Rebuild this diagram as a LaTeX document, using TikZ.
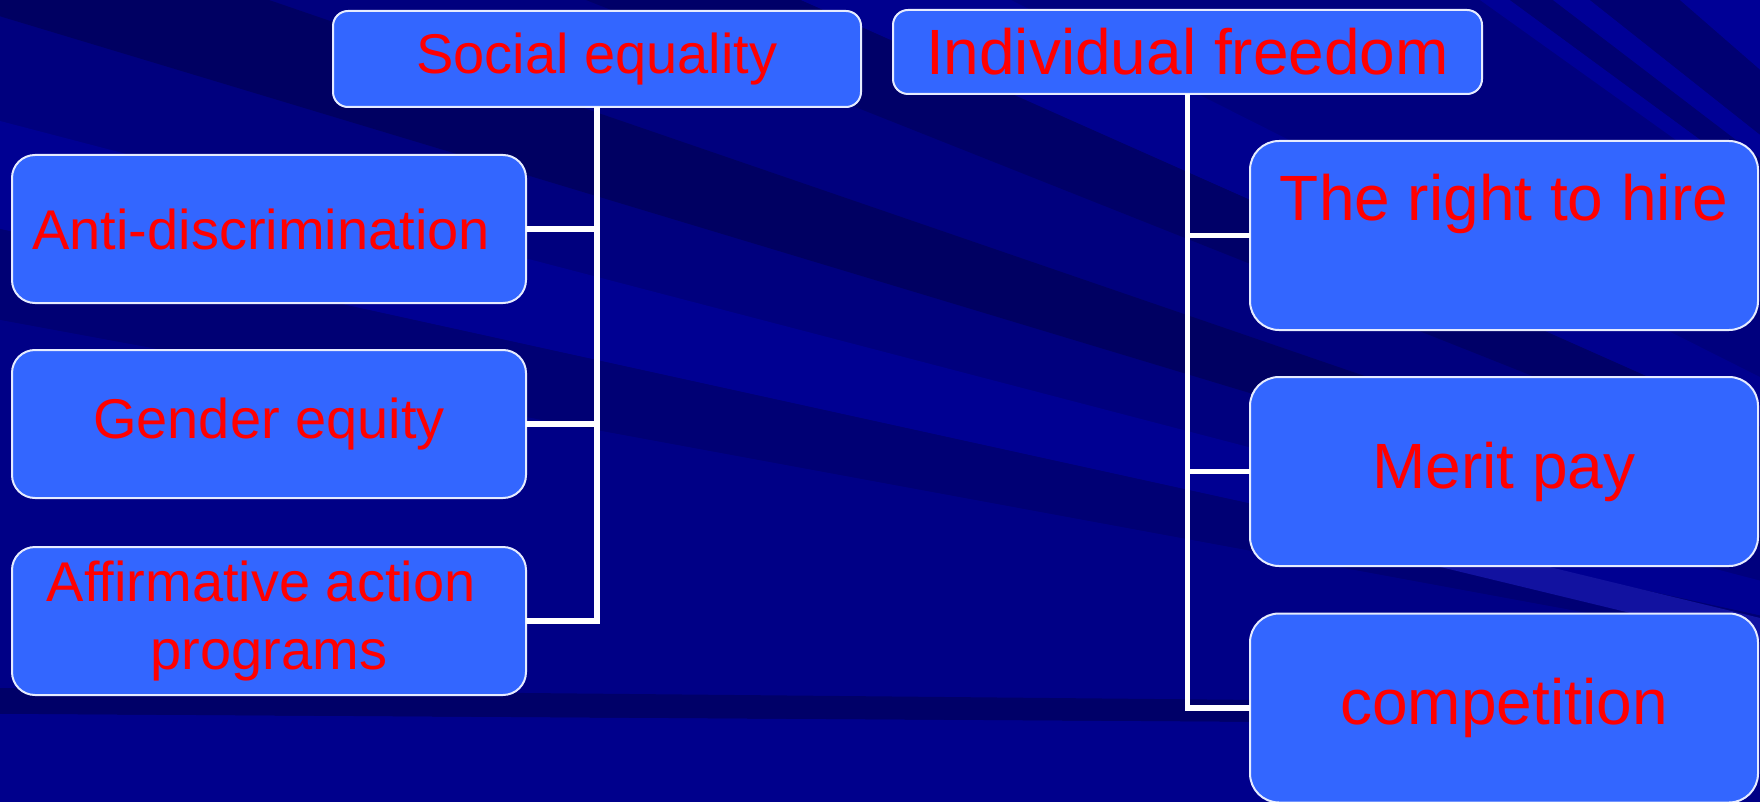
\documentclass[tikz,border=0pt]{standalone}
\usepackage{fontspec}
\setmainfont{Liberation Sans}
\usetikzlibrary{calc}
\definecolor{bgbase}{HTML}{00007E}
\definecolor{bgdark}{HTML}{000062}
\definecolor{bgdarkb}{HTML}{000068}
\definecolor{bgmiddark}{HTML}{000074}
\definecolor{bgmid}{HTML}{000086}
\definecolor{bglight}{HTML}{000092}
\definecolor{bglighter}{HTML}{00008E}
\definecolor{bgbottom}{HTML}{00008C}
\definecolor{bgstreakl}{HTML}{000096}
\definecolor{bgstreakd}{HTML}{000072}
\definecolor{bgglow}{HTML}{1212A0}
\definecolor{boxfill}{HTML}{3366FF}
\definecolor{boxline}{HTML}{E6ECFF}
\definecolor{txtred}{HTML}{FF0000}
\newcommand\wedgefill[3]{\fill[#1] (P) -- ($(P)!3!(#2)$) -- ($(P)!3!(#3)$) -- cycle;}
\begin{document}
\begin{tikzpicture}[x=0.5pt,y=-0.5pt,
  box/.style={draw=boxline, line width=1pt, fill=boxfill, text=txtred,
    inner sep=0pt, outer sep=0pt, align=center},
  small/.style={font=\fontsize{28}{33.6}\selectfont},
  big/.style={font=\fontsize{32}{38.4}\selectfont},
  headbox/.style={box, rounded corners=7.5pt},
  leftbox/.style={box, small, rounded corners=11.5pt, minimum width=257pt, minimum height=74pt},
  rightbox/.style={box, big, rounded corners=14.5pt, minimum width=254pt, minimum height=94.5pt},
  conn/.style={draw=white, line width=2.6pt}]
\useasboundingbox (0,0) rectangle (1760,802);
% background rays
\begin{scope}
\clip (0,0) rectangle (1760,802);
\fill[bgbase] (0,0) rectangle (1760,802);
\coordinate (P) at (2600,800);
\wedgefill{bgdark}{-54,0}{269,0}
\wedgefill{bgdarkb}{586,0}{801,0}
\wedgefill{bglighter}{801,0}{1011,0}
\wedgefill{bgstreakl}{1480,0}{1510,0}
\wedgefill{bgstreakd}{1510,0}{1553,0}
\wedgefill{bgstreakl}{1553,0}{1590,0}
\wedgefill{bgstreakd}{1590,0}{1680,0}
\wedgefill{bgstreakl}{1680,0}{2600,0}
\wedgefill{bglight}{0,121}{0,229}
\wedgefill{bgmiddark}{0,229}{0,320}
\wedgefill{bgmid}{0,320}{0,1400}
\fill[bgdarkb] (0,688) -- (1260,700) -- (1260,722) -- (0,714) -- cycle;
\fill[bgbottom] (0,714) -- (1260,722) -- (1260,802) -- (0,802) -- cycle;
\fill[bgglow] (1329,540) -- (1438,540) -- (1851,640) -- (1742,640) -- cycle;
\end{scope}
% nodes
\node[headbox, small, minimum width=264pt, minimum height=48pt] (SE) at (597,59) {Social equality};
\node[headbox, big, minimum width=294.5pt, minimum height=42pt] (IF) at (1187.5,52) {Individual freedom};
\node[leftbox] (AD) at (269,229) {Anti-discrimination\makebox[0.278em]{}};
\node[leftbox] (GE) at (269,424) {Gender equity};
\node[leftbox] (AA) at (269,621) {Affirmative action\makebox[0.278em]{}\\programs};
\node[rightbox] (RH) at (1504,235.5) {The right to hire\\\mbox{}};
\node[rightbox] (MP) at (1504,471.5) {Merit pay};
\node[rightbox] (CO) at (1504,708) {\raisebox{-4pt}{competition}};
% connectors
\draw[conn] (SE.south) |- (AA.east);
\draw[conn] (SE.south |- AD.east) -- (AD.east);
\draw[conn] (SE.south |- GE.east) -- (GE.east);
\draw[conn] (IF.south) |- (CO.west);
\draw[conn] (IF.south |- RH.west) -- (RH.west);
\draw[conn] (IF.south |- MP.west) -- (MP.west);
\end{tikzpicture}
\end{document}
